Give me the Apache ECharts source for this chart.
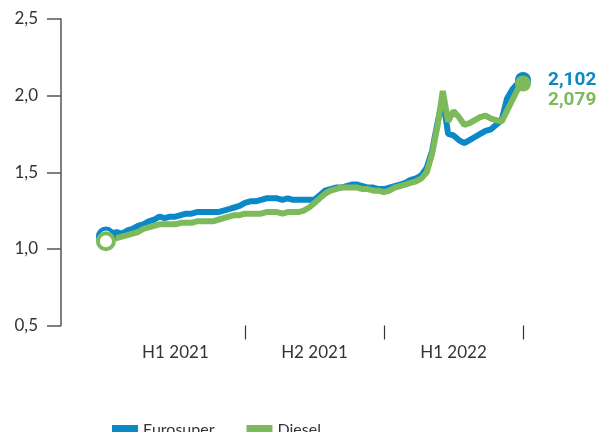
<!DOCTYPE html>
<html lang="de">
<head>
    <meta charset="utf-8">
    <style>
        html, body, #container {
          width: 600px;
          height: 432px;
          margin: 0;
          padding: 0;
          background: #fff;
        }
    </style>
</head>
<body>
<div id="container"></div>
<script type="text/javascript" src="https://fastly.jsdelivr.net/npm/echarts@6/dist/echarts.min.js"></script>
<script type="text/javascript">
  // weekly prices, Jan 2021 .. Jun 2022 (index = week)
  var eurosuper = [1.08, 1.10, 1.11, 1.10, 1.12, 1.13, 1.15, 1.16, 1.18, 1.19,
    1.21, 1.20, 1.21, 1.21, 1.22, 1.23, 1.23, 1.24, 1.24, 1.24,
    1.24, 1.24, 1.25, 1.26, 1.27, 1.28, 1.30, 1.31, 1.31, 1.32,
    1.33, 1.33, 1.33, 1.32, 1.33, 1.32, 1.32, 1.32, 1.32, 1.32,
    1.35, 1.38, 1.39, 1.40, 1.40, 1.41, 1.42, 1.42, 1.41, 1.40,
    1.40, 1.39, 1.39, 1.40, 1.41, 1.42, 1.43, 1.45, 1.46, 1.48,
    1.53, 1.64, 1.82, 1.98, 1.75, 1.74, 1.71, 1.69, 1.71, 1.73,
    1.75, 1.77, 1.78, 1.81, 1.84, 1.98, 2.04, 2.08, 2.102];
  var diesel = [1.05, 1.07, 1.07, 1.08, 1.09, 1.10, 1.11, 1.13, 1.14, 1.15,
    1.16, 1.16, 1.16, 1.16, 1.17, 1.17, 1.17, 1.18, 1.18, 1.18,
    1.18, 1.19, 1.20, 1.21, 1.22, 1.22, 1.23, 1.23, 1.23, 1.23,
    1.24, 1.24, 1.24, 1.23, 1.24, 1.24, 1.24, 1.25, 1.27, 1.30,
    1.33, 1.36, 1.38, 1.39, 1.40, 1.40, 1.40, 1.40, 1.39, 1.39,
    1.38, 1.38, 1.37, 1.38, 1.40, 1.41, 1.42, 1.43, 1.44, 1.46,
    1.50, 1.62, 1.80, 2.03, 1.83, 1.90, 1.86, 1.81, 1.82, 1.84,
    1.86, 1.87, 1.85, 1.84, 1.83, 1.90, 1.97, 2.04, 2.079];
  var halfLabels = ['H1 2021', 'H2 2021', 'H1 2022'];
  var labelWeeks = [13, 39, 65];
  var tickWeeks = [26, 52, 78];

  var blue = '#0a88c8';
  var green = '#7dba5c';

  function fmt(v, d) {
    return v.toFixed(d).replace('.', ',');
  }

  function build(values, color, labelOffset) {
    var last = values.length - 1;
    return values.map(function (v, i) {
      var item = { value: [i, v] };
      if (i === 0) {
        item.itemStyle = { color: '#fff', borderColor: color, borderWidth: 4 };
      } else if (i === last) {
        item.itemStyle = { color: color };
        item.label = {
          show: true,
          position: 'right',
          distance: 17,
          offset: labelOffset,
          formatter: fmt(v, 3),
          color: color,
          fontFamily: 'Roboto',
          fontWeight: 'bold',
          fontSize: 19
        };
      }
      return item;
    });
  }

  function endSize(val, params) {
    return (params.dataIndex === 0 || params.dataIndex === eurosuper.length - 1) ? 16 : 0;
  }

  var dom = document.getElementById('container');
  var myChart = echarts.init(dom, null, { renderer: 'canvas' });

  var option = {
    animation: false,
    textStyle: { fontFamily: 'Lato' },
    grid: { left: 61, top: 19, right: 77, bottom: 106.5, containLabel: false },
    legend: {
      left: 107,
      top: 417,
      itemWidth: 26,
      itemHeight: 10,
      itemGap: 32,
      icon: 'rect',
      textStyle: { fontSize: 16, color: '#333', fontFamily: 'Lato' },
      data: ['Eurosuper', 'Diesel']
    },
    xAxis: {
      type: 'value',
      min: -8.4,
      max: 78,
      axisLine: { show: false },
      splitLine: { show: false },
      axisTick: {
        show: true,
        customValues: tickWeeks,
        length: 14,
        lineStyle: { color: '#333', width: 1.2 }
      },
      axisLabel: {
        customValues: labelWeeks,
        margin: 19,
        fontSize: 17,
        color: '#333',
        formatter: function (v) {
          return halfLabels[labelWeeks.indexOf(v)];
        }
      }
    },
    yAxis: {
      type: 'value',
      min: 0.5,
      max: 2.5,
      interval: 0.5,
      axisLine: { show: true, onZero: false, lineStyle: { color: '#555', width: 1.5 } },
      axisTick: { show: true, length: 14, lineStyle: { color: '#555', width: 1.5 } },
      splitLine: { show: false },
      axisLabel: {
        margin: 23,
        fontSize: 17,
        color: '#333',
        formatter: function (v) { return fmt(v, 1); }
      }
    },
    series: [{
      name: 'Eurosuper',
      type: 'line',
      data: build(eurosuper, blue, [0, 0]),
      color: blue,
      lineStyle: { width: 6, color: blue },
      symbol: 'circle',
      symbolSize: endSize,
      showSymbol: true,
      emphasis: { disabled: true }
    }, {
      name: 'Diesel',
      type: 'line',
      data: build(diesel, green, [0, 17]),
      color: green,
      lineStyle: { width: 6, color: green },
      symbol: 'circle',
      symbolSize: endSize,
      showSymbol: true,
      emphasis: { disabled: true }
    }]
  };
  myChart.setOption(option);
  window.addEventListener('resize', myChart.resize);
</script>
</body>
</html>
